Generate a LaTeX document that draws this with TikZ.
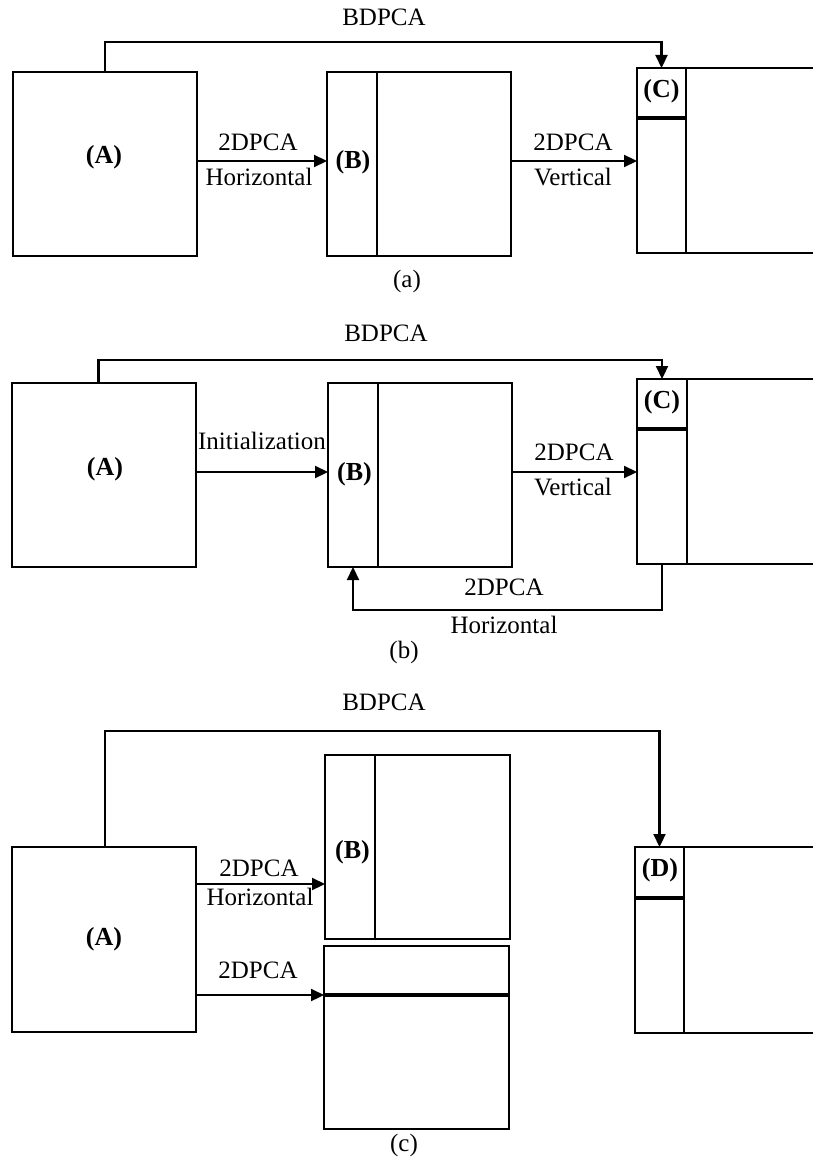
\documentclass[tikz,border=0pt]{standalone}
\usepackage{fontspec}
\setmainfont{Liberation Serif}
\usetikzlibrary{arrows.meta}
\begin{document}
\begin{tikzpicture}[x=1pt,y=-1pt,
  cell/.style={draw,line width=2pt,inner sep=0pt,outer sep=0pt,anchor=north west},
  lbl/.style={inner sep=0pt,font=\fontsize{25}{29}\selectfont,text height=0.66em,text depth=0pt},
  blbl/.style={lbl,font=\fontsize{26}{30}\selectfont\bfseries},
  arr/.style={line width=2.2pt,-{Triangle[length=13pt,width=12pt]}},
  thickline/.style={line width=3.4pt}]
\useasboundingbox (0,0) rectangle (813,1161);
\begin{scope}
\clip (0,0) rectangle (813,1161);
% ---------- panel (a) ----------
\node[cell,minimum width=184pt,minimum height=184pt] (Aa) at (13,72) {};
\node[cell,minimum width=50pt,minimum height=184pt] (Ba1) at (327,72) {};
\node[cell,minimum width=134pt,minimum height=184pt] (Ba2) at (377,72) {};
\node[cell,minimum width=49pt,minimum height=50pt] (Ca1) at (637,68) {};
\node[cell,minimum width=49pt,minimum height=135pt] (Ca2) at (637,118) {};
\node[cell,minimum width=300pt,minimum height=185pt] (Ca3) at (686,68) {};
\draw[thickline] (Ca1.south west) -- (Ca1.south east);
\node[blbl] (LAa) at (104,160) {(A)};
\node[blbl] (LBa) at (353,165) {(B)};
\node[blbl] (LCa) at (661.5,94) {(C)};
\coordinate (Ta) at (105,42);
\draw[arr] (Aa.north) -- (Ta) -| (Ca1.north);
\node[lbl] (BDa) at (384,22) {BDPCA};
\draw[arr] (Aa.east |- 0,161) -- (Ba1.west |- 0,161);
\node[lbl] at (258,147) {2DPCA};
\node[lbl] at (259,182) {Horizontal};
\draw[arr] (Ba2.east |- 0,161) -- (Ca2.west |- 0,161);
\node[lbl] at (573,147) {2DPCA};
\node[lbl] at (573,182) {Vertical};
\node[lbl] at (407,284) {(a)};
% ---------- panel (b) ----------
\node[cell,minimum width=184pt,minimum height=184pt] (Ab) at (12,383) {};
\node[cell,minimum width=50pt,minimum height=184pt] (Bb1) at (328,383) {};
\node[cell,minimum width=134pt,minimum height=184pt] (Bb2) at (378,383) {};
\node[cell,minimum width=50pt,minimum height=50pt] (Cb1) at (637,379) {};
\node[cell,minimum width=50pt,minimum height=135pt] (Cb2) at (637,429) {};
\node[cell,minimum width=300pt,minimum height=185pt] (Cb3) at (687,379) {};
\draw[thickline] (Cb1.south west) -- (Cb1.south east);
\node[blbl] at (105,472) {(A)};
\node[blbl] at (354.5,477) {(B)};
\node[blbl] at (662,405) {(C)};
\coordinate (Tb) at (98.5,360);
\draw[arr] (Ab.north -| Tb) -- (Tb) -| (Cb1.north);
\node[lbl] at (386,338) {BDPCA};
\draw[arr] (Ab.east |- 0,472) -- (Bb1.west |- 0,472);
\node[lbl] at (262,446) {Initialization};
\draw[arr] (Bb2.east |- 0,472) -- (Cb2.west |- 0,472);
\node[lbl] at (574,457) {2DPCA};
\node[lbl] at (573,492) {Vertical};
\coordinate (Fb) at (662,610);
\draw[arr] (Cb2.south) -- (Fb) -| (Bb1.south);
\node[lbl] at (504,592) {2DPCA};
\node[lbl] at (504,630) {Horizontal};
\node[lbl] at (404,655) {(b)};
% ---------- panel (c) ----------
\node[cell,minimum width=184pt,minimum height=185pt] (Ac) at (12,847) {};
\node[cell,minimum width=50pt,minimum height=184pt] (Bc1) at (325,755) {};
\node[cell,minimum width=135pt,minimum height=184pt] (Bc2) at (375,755) {};
\node[cell,minimum width=185pt,minimum height=49pt] (Ec1) at (324,946) {};
\node[cell,minimum width=185pt,minimum height=134pt] (Ec2) at (324,995) {};
\draw[thickline] (Ec2.north west) -- (Ec2.north east);
\node[cell,minimum width=49pt,minimum height=51pt] (Dc1) at (635,847) {};
\node[cell,minimum width=49pt,minimum height=135pt] (Dc2) at (635,898) {};
\node[cell,minimum width=300pt,minimum height=186pt] (Dc3) at (684,847) {};
\draw[thickline] (Dc1.south west) -- (Dc1.south east);
\node[blbl] at (104,942) {(A)};
\node[blbl] at (352.5,855) {(B)};
\node[blbl] at (660,873) {(D)};
\coordinate (Tc) at (105,731);
\draw[arr] (Ac.north -| Tc) -- (Tc) -| (Dc1.north);
\node[lbl] at (384,707) {BDPCA};
\draw[arr] (Ac.east |- 0,884) -- (Bc1.west |- 0,884);
\node[lbl] at (259,873) {2DPCA};
\node[lbl] at (260,902) {Horizontal};
\draw[arr] (Ac.east |- Ec2.north west) -- (Ec2.north west);
\node[lbl] at (258,975) {2DPCA};
\node[lbl] at (404,1148) {(c)};
\end{scope}
\end{tikzpicture}
\end{document}
